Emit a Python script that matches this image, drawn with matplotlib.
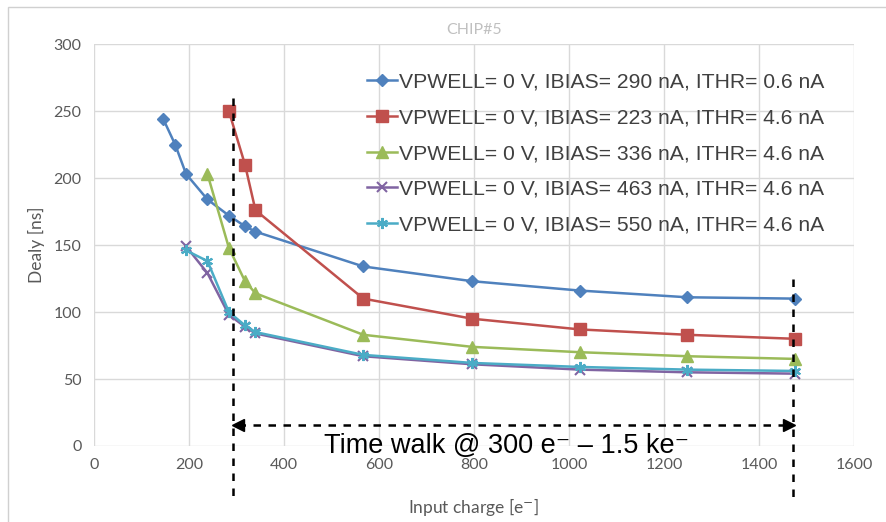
import matplotlib
matplotlib.use("Agg")
import matplotlib.pyplot as plt

# Input charge [e-] sample points
x_all = [146, 171, 194, 239, 284, 318, 340, 567, 796, 1023, 1249, 1476]

x_blue = x_all
y_blue = [244, 225, 203, 184, 172, 164, 160, 134, 123, 116, 111, 110]

x_red = x_all[4:]
y_red = [250, 210, 176, 110, 95, 87, 83, 80]

x_green = x_all[3:]
y_green = [203, 148, 123, 114, 83, 74, 70, 67, 65]

x_purple = x_all[2:]
y_purple = [149, 129, 98, 89, 84, 67, 61, 57, 55, 54]

x_cyan = x_all[2:]
y_cyan = [146, 138, 100, 90, 85, 68, 62, 59, 57, 56]

labels = [
    "VPWELL= 0 V, IBIAS= 290 nA, ITHR= 0.6 nA",
    "VPWELL= 0 V, IBIAS= 223 nA, ITHR= 4.6 nA",
    "VPWELL= 0 V, IBIAS= 336 nA, ITHR= 4.6 nA",
    "VPWELL= 0 V, IBIAS= 463 nA, ITHR= 4.6 nA",
    "VPWELL= 0 V, IBIAS= 550 nA, ITHR= 4.6 nA",
]

tw_x0 = 293
tw_x1 = 1472

fig = plt.figure(figsize=(8.86, 5.22), dpi=100)
# light outer frame like the Excel chart area
fig.patches.append(plt.Rectangle((0.009, -0.01), 1.2, 0.997, transform=fig.transFigure,
                                 fill=False, edgecolor="#d0d0d0", lw=1))
ax = fig.add_axes([0.106, 0.1456, 0.858, 0.770])

ax.plot(x_blue, y_blue, color="#4F81BD", lw=1.8, marker="D", ms=6, label=labels[0])
ax.plot(x_red, y_red, color="#C0504D", lw=1.8, marker="s", ms=8, label=labels[1])
ax.plot(x_green, y_green, color="#9BBB59", lw=1.8, marker="^", ms=8, label=labels[2])
ax.plot(x_purple, y_purple, color="#8064A2", lw=1.8, marker="x", ms=7, mew=1.5, label=labels[3])
ax.plot(x_cyan, y_cyan, color="#4BACC6", lw=1.8, marker=(6, 2, 0), ms=8, mew=1.5, label=labels[4])

ax.set_xlim(0, 1600)
ax.set_ylim(0, 300)
ax.set_xticks(range(0, 1601, 200))
ax.set_yticks(range(0, 301, 50))
ax.grid(True, color="#d9d9d9", lw=1)
ax.set_axisbelow(True)
for s in ax.spines.values():
    s.set_visible(False)
ax.tick_params(length=0, labelsize=11.5, labelcolor="#595959", pad=9)
for t in ax.get_xticklabels() + ax.get_yticklabels():
    t.set_fontfamily("Lato")

ax.set_xlabel("Input charge [e$^{-}$]", fontsize=12.5, color="#595959", family="Lato", labelpad=17)
ax.set_ylabel("Dealy [ns]", fontsize=12.5, color="#595959", family="Lato", labelpad=6)
ax.set_title("CHIP#5", fontsize=11.5, color="#c0c0c0", family="Lato", pad=7)

leg = ax.legend(loc="upper left", bbox_to_anchor=(0.345, 0.955), frameon=False,
                prop={"family": "Liberation Sans", "size": 15.2},
                handlelength=1.45, handletextpad=0.1, labelspacing=0.79, borderpad=0)
for t in leg.get_texts():
    t.set_color("#404040")

# time-walk annotation
ax.plot([tw_x0, tw_x0], [260, -42], color="black", ls=(0, (3, 3)), lw=1.8, clip_on=False)
ax.plot([tw_x1, tw_x1], [125, -42], color="black", ls=(0, (3, 3)), lw=1.8, clip_on=False)
ax.plot([tw_x0 + 10, tw_x1 - 10], [15.7, 15.7], color="black", ls=(0, (3, 3)), lw=1.8)
ax.plot([tw_x0 + 10], [15.7], marker="<", color="black", ms=8)
ax.plot([tw_x1 - 10], [15.7], marker=">", color="black", ms=8)
ax.text(868, 0, "Time walk @ 300 e\u207b \u2013 1.5 ke\u207b",
        ha="center", va="center", fontsize=19.5, color="black",
        family=["Liberation Sans Narrow", "Liberation Sans", "DejaVu Sans"])

fig.savefig("out.png", dpi=100)
